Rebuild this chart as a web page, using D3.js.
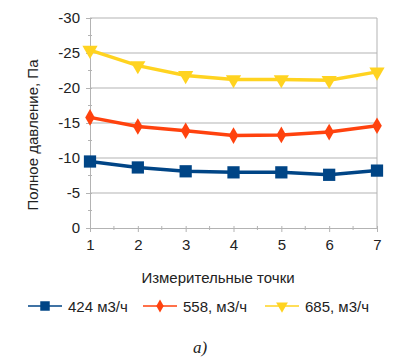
<!DOCTYPE html>
<html>
<head>
<meta charset="utf-8">
<script src="https://cdn.jsdelivr.net/npm/d3@7"></script>
<style>
  body { margin: 0; background: #fff; }
  text { font-family: "Liberation Sans", Arial, sans-serif; fill: #222; }
</style>
</head>
<body>
<div id="chart"></div>
<script>
// measuring points
const points = [1, 2, 3, 4, 5, 6, 7];
// total pressure, Pa
const flow424 = [-9.5, -8.65, -8.1, -7.95, -7.95, -7.6, -8.2];
const flow558 = [-15.8, -14.5, -13.9, -13.2, -13.3, -13.7, -14.6];
const flow685 = [-25.4, -23.2, -21.8, -21.2, -21.2, -21.1, -22.3];
const yTicks = [0, -5, -10, -15, -20, -25, -30];
const seriesNames = ["424 м3/ч", "558, м3/ч", "685, м3/ч"];

const width = 405, height = 357;
const margin = { top: 18, right: 28, bottom: 130, left: 90 };
const fontSize = "15px";

const svg = d3.select("#chart").append("svg")
  .attr("width", width)
  .attr("height", height);

const x = d3.scaleLinear().domain([1, 7]).range([margin.left, width - margin.right]);
const y = d3.scaleLinear().domain([0, -30]).range([height - margin.bottom + 1, margin.top]);

// grid lines
svg.append("g")
  .selectAll("line")
  .data(yTicks.filter(d => d !== 0))
  .join("line")
  .attr("x1", margin.left)
  .attr("x2", width - margin.right)
  .attr("y1", d => y(d))
  .attr("y2", d => y(d))
  .attr("stroke", "#b3b3b3")
  .attr("stroke-width", 1);

// right border
svg.append("line")
  .attr("x1", width - margin.right).attr("x2", width - margin.right)
  .attr("y1", y(-30)).attr("y2", y(0))
  .attr("stroke", "#b3b3b3");

// y axis
const yAxis = svg.append("g")
  .attr("transform", `translate(${margin.left},0)`)
  .call(d3.axisLeft(y).tickValues(yTicks).tickSize(4).tickPadding(6).tickFormat(d3.format("d")));
yAxis.select(".domain").attr("stroke", "#b3b3b3");
yAxis.selectAll(".tick line").attr("stroke", "#b3b3b3").attr("x2", -4).attr("x1", 2);
yAxis.selectAll("text").style("font-size", fontSize).attr("fill", "#222");
yAxis.selectAll(".tick text").text(d => d === 0 ? "0" : "-" + Math.abs(d));

// y minor ticks
svg.append("g")
  .selectAll("line")
  .data(d3.range(-2.5, -30, -5))
  .join("line")
  .attr("x1", margin.left - 2).attr("x2", margin.left + 2)
  .attr("y1", d => y(d)).attr("y2", d => y(d))
  .attr("stroke", "#b3b3b3");

// x axis
const xAxis = svg.append("g")
  .attr("transform", `translate(0,${y(0)})`)
  .call(d3.axisBottom(x).tickValues(points).tickSize(4).tickPadding(7).tickFormat(d3.format("d")));
xAxis.select(".domain").attr("stroke", "#b3b3b3");
xAxis.selectAll(".tick line").attr("stroke", "#b3b3b3").attr("y1", -2);
xAxis.selectAll("text").style("font-size", fontSize).attr("fill", "#222");

// x minor ticks
svg.append("g")
  .selectAll("line")
  .data(d3.range(1.5, 7, 1))
  .join("line")
  .attr("x1", d => x(d)).attr("x2", d => x(d))
  .attr("y1", y(0) - 2).attr("y2", y(0) + 2)
  .attr("stroke", "#b3b3b3");

// axis titles
svg.append("text")
  .attr("transform", "translate(38,135) rotate(-90)")
  .attr("text-anchor", "middle")
  .style("font-size", fontSize)
  .text("Полное давление, Па");

svg.append("text")
  .attr("x", 218)
  .attr("y", 283)
  .attr("text-anchor", "middle")
  .style("font-size", fontSize)
  .text("Измерительные точки");

const series = [
  { name: seriesNames[0], values: flow424, color: "#004586", symbol: d3.symbolSquare, size: 150 },
  { name: seriesNames[1], values: flow558, color: "#ff420e", symbol: d3.symbolDiamond, size: 80 },
  { name: seriesNames[2], values: flow685, color: "#ffd320", symbol: d3.symbolTriangle, size: 100, rot: 180 }
];

const line = d3.line()
  .x((d, i) => x(points[i]))
  .y(d => y(d));

series.forEach(s => {
  svg.append("path")
    .datum(s.values)
    .attr("fill", "none")
    .attr("stroke", s.color)
    .attr("stroke-width", 3.5)
    .attr("d", line);

  svg.append("g")
    .selectAll("path")
    .data(s.values)
    .join("path")
    .attr("d", d3.symbol().type(s.symbol).size(s.size))
    .attr("transform", (d, i) => `translate(${x(points[i])},${y(d)}) rotate(${s.rot || 0})`)
    .attr("fill", s.color);
});

// legend
const legendX = [28, 143, 265];
const legend = svg.append("g")
  .selectAll("g")
  .data(series)
  .join("g")
  .attr("transform", (d, i) => `translate(${legendX[i]},306)`);

legend.append("line")
  .attr("x1", 0).attr("x2", 34)
  .attr("stroke", d => d.color)
  .attr("stroke-width", 1.5);
legend.append("path")
  .attr("d", d => d3.symbol().type(d.symbol).size(d.size * 0.6)())
  .attr("transform", d => `translate(17,0) rotate(${d.rot || 0})`)
  .attr("fill", d => d.color);
legend.append("text")
  .attr("x", 40)
  .attr("y", 5.5)
  .style("font-size", fontSize)
  .text(d => d.name);

// caption
svg.append("text")
  .attr("x", 200)
  .attr("y", 353)
  .attr("text-anchor", "middle")
  .style("font-family", "'Liberation Serif', 'DejaVu Serif', serif")
  .style("font-style", "italic")
  .style("font-size", "17px")
  .text("а)");
</script>
</body>
</html>
